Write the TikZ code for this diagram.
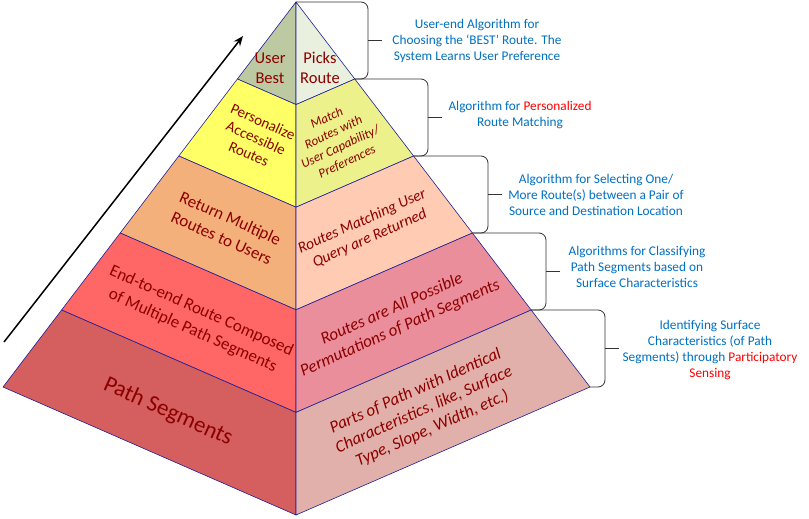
\documentclass[tikz,border=0pt]{standalone}
\usepackage{fontspec}
\setmainfont{Carlito}
\usepackage{xcolor}
\usepackage{tikz}
\usetikzlibrary{arrows.meta,positioning}
\definecolor{edgeblue}{RGB}{30,30,150}
\definecolor{labelred}{RGB}{140,0,0}
\definecolor{noteblue}{RGB}{0,112,192}
\definecolor{hotred}{RGB}{255,0,0}
\definecolor{pickleft}{RGB}{189,201,160}
\definecolor{pickright}{RGB}{234,240,222}
\definecolor{persleft}{RGB}{255,255,102}
\definecolor{persright}{RGB}{236,241,140}
\definecolor{multleft}{RGB}{244,176,122}
\definecolor{multright}{RGB}{255,203,178}
\definecolor{compleft}{RGB}{255,102,102}
\definecolor{compright}{RGB}{235,142,155}
\definecolor{segleft}{RGB}{213,94,94}
\definecolor{segright}{RGB}{226,176,170}

\begin{document}
\begin{tikzpicture}[x=1pt, y=-1pt,
    face/.style={draw=edgeblue, line width=0.6pt, line join=round},
    flat/.style={text=labelred, align=center, inner sep=0pt, font=\fontsize{16.5}{20}\selectfont},
    lefttxt/.style={text=labelred, align=center, inner sep=0pt, rotate=-24, font=\fontsize{17}{21.5}\selectfont},
    righttxt/.style={text=labelred, align=center, inner sep=0pt, rotate=24, font=\fontsize{17}{20.5}\selectfont\itshape},
    note/.style={text=noteblue, align=center, inner sep=0pt, font=\fontsize{13.3}{15.7}\selectfont},
    brace/.style={draw=black!80, line width=0.8pt, rounded corners=7pt},
    arrow/.style={-{Stealth[length=10pt, width=8pt]}, line width=1.5pt}
]
    \useasboundingbox (0,0) rectangle (809,519);

    % pyramid corners
    \coordinate (apex) at (296,2);
    \coordinate (l1) at (237.4,79);
    \coordinate (l2) at (178.8,156);
    \coordinate (l3) at (120.2,233);
    \coordinate (l4) at (61.6,310);
    \coordinate (l5) at (3,387);
    \coordinate (c1) at (296,104.6);
    \coordinate (c2) at (296,207.2);
    \coordinate (c3) at (296,309.8);
    \coordinate (c4) at (296,412.4);
    \coordinate (c5) at (296,515);
    \coordinate (r1) at (354.8,79);
    \coordinate (r2) at (413.6,156);
    \coordinate (r3) at (472.4,233);
    \coordinate (r4) at (531.2,310);
    \coordinate (r5) at (590,387);

    % faces
    \filldraw[face, fill=pickleft] (apex) -- (c1) -- (l1) -- cycle;
    \filldraw[face, fill=pickright] (apex) -- (r1) -- (c1) -- cycle;
    \filldraw[face, fill=persleft] (l1) -- (c1) -- (c2) -- (l2) -- cycle;
    \filldraw[face, fill=persright] (r1) -- (c1) -- (c2) -- (r2) -- cycle;
    \filldraw[face, fill=multleft] (l2) -- (c2) -- (c3) -- (l3) -- cycle;
    \filldraw[face, fill=multright] (r2) -- (c2) -- (c3) -- (r3) -- cycle;
    \filldraw[face, fill=compleft] (l3) -- (c3) -- (c4) -- (l4) -- cycle;
    \filldraw[face, fill=compright] (r3) -- (c3) -- (c4) -- (r4) -- cycle;
    \filldraw[face, fill=segleft] (l4) -- (c4) -- (c5) -- (l5) -- cycle;
    \filldraw[face, fill=segright] (r4) -- (c4) -- (c5) -- (r5) -- cycle;

    % labels on the faces
    \node[flat] (userbest) at (270,68) {User\\Best};
    \node[flat] (picks) at (320,68) {Picks\\Route};
    \node[lefttxt, font=\fontsize{15}{17.5}\selectfont] (personalize) at (256,138) {Personalize\\Accessible\\Routes};
    \node[righttxt, rotate=1, font=\fontsize{13}{16}\selectfont\itshape] (match) at (337,140) {Match\\Routes with\\User Capability/\\Preferences};
    \node[lefttxt] (multiple) at (226,228) {Return Multiple\\Routes to Users};
    \node[righttxt, font=\fontsize{15.5}{18.5}\selectfont\itshape] (matching) at (366,230) {Routes Matching User\\Query are Returned};
    \node[lefttxt] (composed) at (197,321) {End-to-end Route Composed\\of Multiple Path Segments};
    \node[righttxt] (permut) at (396,319) {Routes are All Possible\\Permutations of Path Segments};
    \node[lefttxt, font=\fontsize{23}{27}\selectfont] (segments) at (168,412) {Path Segments};
    \node[righttxt] (parts) at (424,410) {Parts of Path with Identical\\Characteristics, like, Surface\\Type, Slope, Width, etc.)};

    % braces
    \coordinate (b1) at (368,40.5);
    \coordinate (b2) at (428,117.5);
    \coordinate (b3) at (488,194.5);
    \coordinate (b4) at (546,271.5);
    \coordinate (b5) at (605,348.5);
    \draw[brace] (apex) -| (b1) |- (r1);
    \draw[brace] (r1) -| (b2) |- (r2);
    \draw[brace] (r2) -| (b3) |- (r3);
    \draw[brace] (r3) -| (b4) |- (r4);
    \draw[brace] (r4) -| (b5) |- (r5);
    \draw[brace] (b1) -- ++(14,0);
    \draw[brace] (b2) -- ++(14,0);
    \draw[brace] (b3) -- ++(14,0);
    \draw[brace] (b4) -- ++(14,0);
    \draw[brace] (b5) -- ++(14,0);

    % notes
    \node[note] (bestnote) at (477,41) {User-end Algorithm for\\Choosing the ‘BEST’ Route. The\\System Learns User Preference};
    \node[note] (persnote) at (520,115) {Algorithm for \textcolor{hotred}{Personalized}\\Route Matching};
    \node[note] (selnote) at (596,195) {Algorithm for Selecting One/\\More Route(s) between a Pair of\\Source and Destination Location};
    \node[note] (classnote) at (637,267) {Algorithms for Classifying\\Path Segments based on\\Surface Characteristics};
    \node[note] (sensenote) at (710,350) {Identifying Surface\\Characteristics (of Path\\Segments) through \textcolor{hotred}{Participatory}\\\textcolor{hotred}{Sensing}};

    % upward arrow
    \coordinate (arrowtail) at (4,342);
    \coordinate (arrowtip) at (243,36);
    \draw[arrow] (arrowtail) -- (arrowtip);
\end{tikzpicture}
\end{document}
